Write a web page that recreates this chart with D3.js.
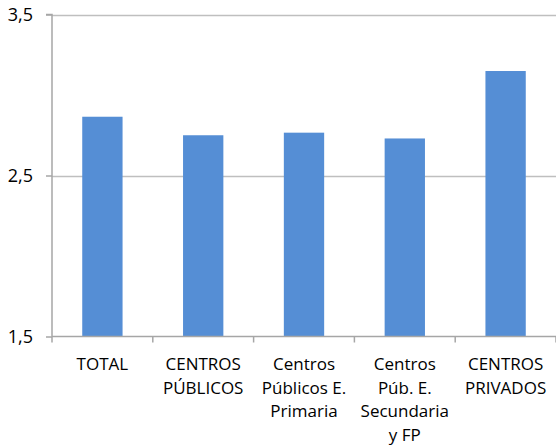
<!DOCTYPE html>
<html><head><meta charset="utf-8">
<script src="https://cdn.jsdelivr.net/npm/d3@7"></script>
<style>body{margin:0;background:#fff}svg{display:block}text{font-family:"Open Sans",sans-serif}</style>
</head><body>
<script>
const categories = [
  ["TOTAL"],
  ["CENTROS", "PÚBLICOS"],
  ["Centros", "Públicos E.", "Primaria"],
  ["Centros", "Púb. E.", "Secundaria", "y FP"],
  ["CENTROS", "PRIVADOS"]
];
const values = [2.865, 2.75, 2.766, 2.73, 3.149];
const yTicks = [1.5, 2.5, 3.5];
const yTickLabels = ["1,5", "2,5", "3,5"];

const FONT = "'Open Sans', sans-serif";
const FS = 17;
const W = 556, H = 448;
const m = {left: 52, right: 0, top: 14.5, bottom: 111.5};
const svg = d3.select("body").append("svg").attr("width", W).attr("height", H);

const keys = categories.map((c, i) => i);
const x = d3.scaleBand().domain(keys).range([m.left, W - m.right]).padding(0);
const y = d3.scaleLinear().domain([1.5, 3.5]).range([H - m.bottom, m.top]);

// gridlines
svg.append("g").selectAll("line").data(yTicks.slice(1)).join("line")
  .attr("x1", m.left).attr("x2", W).attr("y1", d => Math.round(y(d)) + 0.5).attr("y2", d => Math.round(y(d)) + 0.5)
  .attr("stroke", "#bfbfbf").attr("stroke-width", 1.5);

// bars
const bw = x.bandwidth() * 0.4;
svg.append("g").selectAll("rect").data(values).join("rect")
  .attr("x", (d, i) => x(i) + (x.bandwidth() - bw) / 2)
  .attr("width", bw)
  .attr("y", d => y(d))
  .attr("height", d => y(1.5) - y(d))
  .attr("fill", "#558ed5");

// y axis
const yAxis = d3.axisLeft(y).tickValues(yTicks).tickFormat((d, i) => yTickLabels[i]).tickSize(6).tickPadding(13);
const gy = svg.append("g").attr("transform", `translate(${m.left},0)`).call(yAxis);
gy.select(".domain").attr("stroke", "#a6a6a6").attr("stroke-width", 1.5).attr("d", `M-6,${y(3.5)}H0V${y(1.5)}`);
gy.selectAll(".tick line").attr("stroke", "#a6a6a6").attr("stroke-width", 1.5);
gy.selectAll(".tick text").attr("font-size", 18).attr("fill", "#000").style("font-family", FONT);

// x axis
const xAxis = d3.axisBottom(x).tickSize(0).tickFormat("");
const gx = svg.append("g").attr("transform", `translate(0,${y(1.5)})`).call(xAxis);
gx.select(".domain").attr("stroke", "#a6a6a6").attr("stroke-width", 1.5).attr("d", `M${m.left},0H${W}`);
// ticks at category boundaries
const bounds = keys.map(k => x(k)).concat([x(keys.length - 1) + x.bandwidth()]);
gx.append("g").selectAll("line").data(bounds).join("line")
  .attr("x1", d => d).attr("x2", d => d).attr("y1", 0).attr("y2", 6)
  .attr("stroke", "#a6a6a6").attr("stroke-width", 1.5);

// category labels
const lab = svg.append("g").selectAll("text").data(categories).join("text")
  .attr("text-anchor", "middle").attr("font-size", FS).attr("fill", "#000")
  .style("font-family", FONT)
  .attr("transform", (d, i) => `translate(${x(i) + x.bandwidth() / 2},${y(1.5) + 33.5})`);
lab.selectAll("tspan").data(d => d).join("tspan")
  .attr("x", 0).attr("y", (d, j) => j * 23.7).text(d => d);
</script>
</body></html>
